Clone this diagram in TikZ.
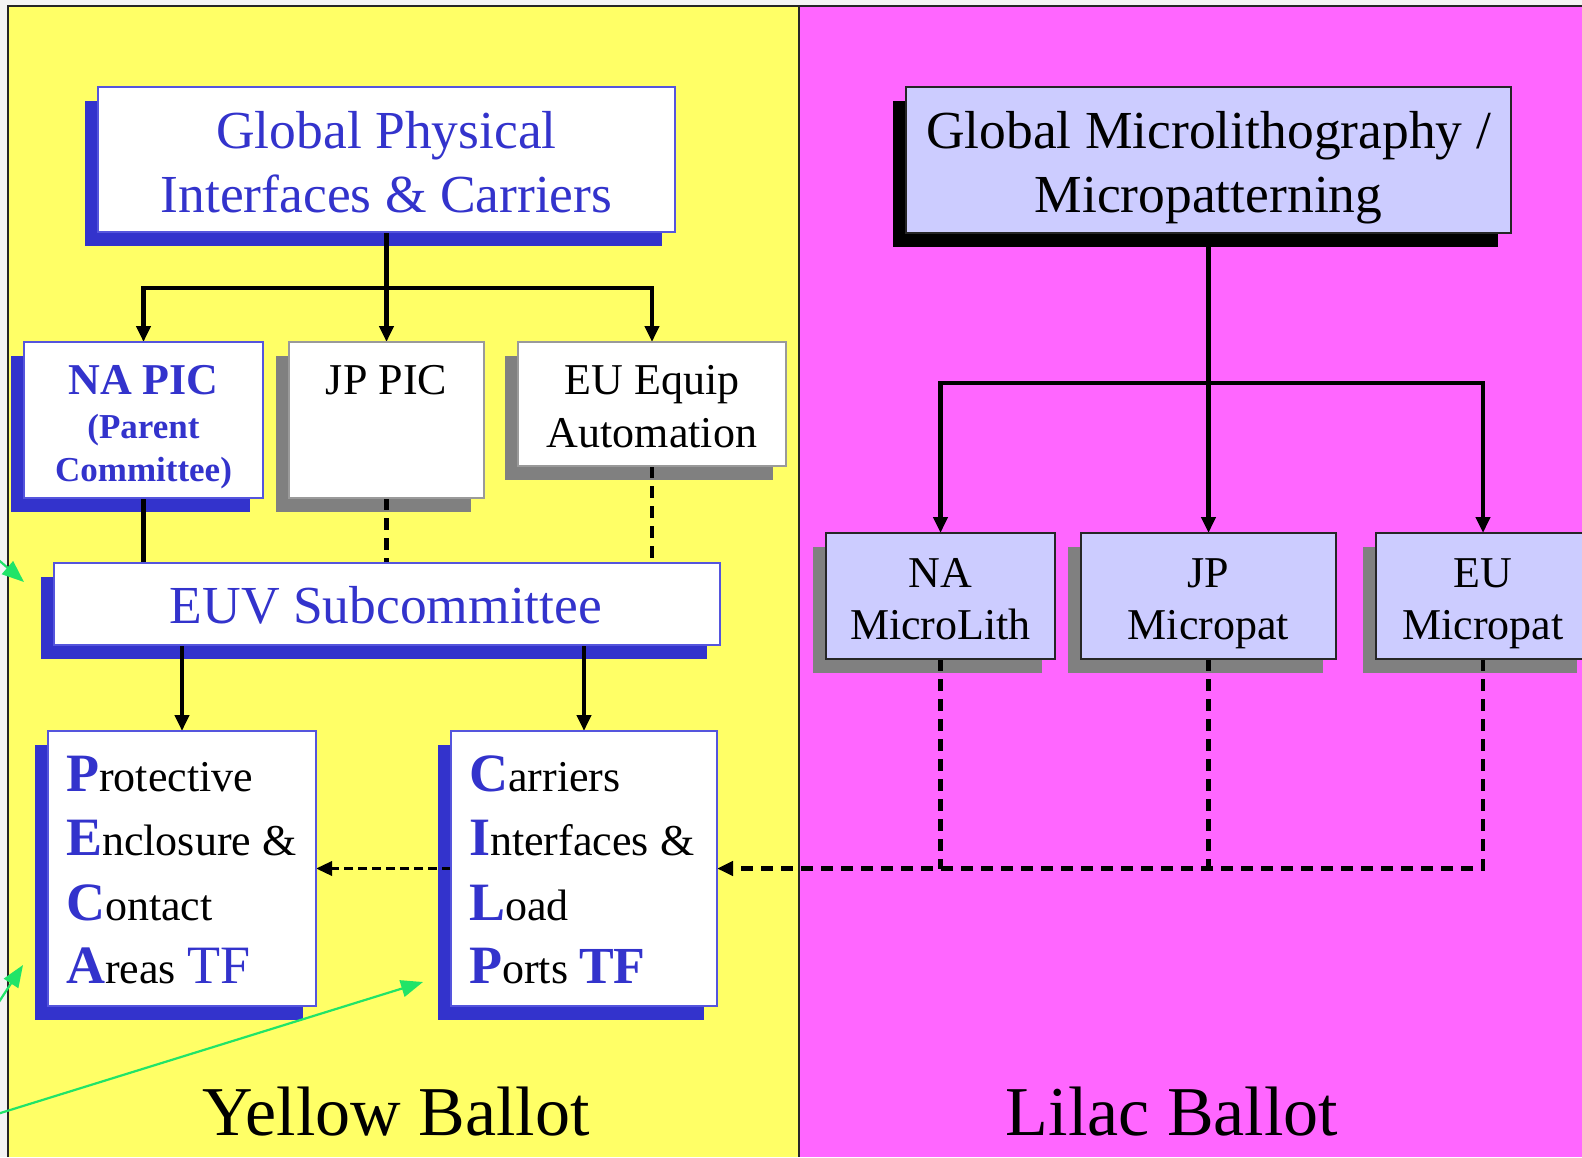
\documentclass[tikz,border=0pt]{standalone}
\usepackage{fontspec}
\setmainfont{Liberation Serif}
\usetikzlibrary{arrows.meta,calc}
\definecolor{myyellow}{HTML}{FFFF66}
\definecolor{mymag}{HTML}{FF66FF}
\definecolor{myblue}{HTML}{3333CC}
\definecolor{boxblue}{HTML}{5555DD}
\definecolor{lilac}{HTML}{CCCCFF}
\definecolor{shgrey}{HTML}{808080}
\definecolor{boxgrey}{HTML}{9A9A9A}
\definecolor{mygreen}{HTML}{20E468}
\definecolor{margin}{HTML}{F4F4F4}
\pgfdeclarelayer{panel}\pgfdeclarelayer{shadow}\pgfdeclarelayer{lines}
\pgfsetlayers{panel,shadow,lines,main}
\newcommand\fs[1]{\fontsize{#1}{#1}\selectfont}
\newcommand\Ini[1]{{\fontsize{54}{54}\selectfont\bfseries\color{myblue}#1}}
\newcommand\boxshadow[2]{\fill[#2] ($(#1.south west)+(-13,14)$) rectangle ($(#1.north east)+(-13,14)$);}
\begin{document}
\begin{tikzpicture}[x=1pt,y=-1pt,
  box/.style={rectangle, inner sep=0pt, outer sep=0pt, line width=1.3pt},
  wbox/.style={box, draw=boxblue, fill=white},
  gbox/.style={box, draw=boxgrey, fill=white},
  lbox/.style={box, draw=black!85, fill=lilac},
  txt/.style={inner sep=0pt, anchor=base},
  ltxt/.style={inner sep=0pt, anchor=base west, font=\fs{44}},
  conn/.style={line width=4.3pt, draw=black},
  tip/.style={-{Triangle[length=16pt,width=14pt]}},
  dsh/.style={conn, dash pattern=on 12pt off 8pt},
  dshthin/.style={line width=3.4pt, draw=black, dash pattern=on 9pt off 5pt},
  garrow/.style={draw=mygreen, line width=2.2pt, -{Triangle[length=22pt,width=17pt]}}]
\useasboundingbox (0,0) rectangle (1582,1157);
\clip (0,0) rectangle (1582,1157);

\begin{pgfonlayer}{panel}
  \fill[margin] (0,0) rectangle (1582,1157);
  \fill[myyellow] (8,6) rectangle (799,1157);
  \fill[mymag] (799,6) rectangle (1582,1157);
  \draw[black!85, line width=1.5pt] (8,1157) -- (8,6) -- (1582,6);
  \draw[black!85, line width=1.5pt] (799,6) -- (799,1157);
\end{pgfonlayer}

% boxes
\node[wbox, minimum width=577pt, minimum height=145pt] (gpic) at (386.5,159.5) {};
\node[lbox, minimum width=605pt, minimum height=146pt] (gmic) at (1208.5,160) {};
\node[wbox, minimum width=239pt, minimum height=156pt] (napic) at (143.5,420) {};
\node[gbox, minimum width=195pt, minimum height=156pt] (jppic) at (386.5,420) {};
\node[gbox, minimum width=268pt, minimum height=124pt] (eueq) at (652,404) {};
\node[wbox, minimum width=666pt, minimum height=82pt] (euv) at (387,604) {};
\node[lbox, minimum width=229pt, minimum height=126pt] (namic) at (940.5,596) {};
\node[lbox, minimum width=255pt, minimum height=126pt] (jpmic) at (1208.5,596) {};
\node[lbox, minimum width=214pt, minimum height=126pt] (eumic) at (1483,596) {};
\node[wbox, minimum width=268pt, minimum height=275pt] (pec) at (182,868.5) {};
\node[wbox, minimum width=266pt, minimum height=275pt] (cilp) at (584,868.5) {};

\begin{pgfonlayer}{shadow}
  \boxshadow{gpic}{myblue}
  \boxshadow{gmic}{black}
  \boxshadow{napic}{myblue}
  \boxshadow{jppic}{shgrey}
  \boxshadow{eueq}{shgrey}
  \boxshadow{euv}{myblue}
  \boxshadow{namic}{shgrey}
  \boxshadow{jpmic}{shgrey}
  \boxshadow{eumic}{shgrey}
  \boxshadow{pec}{myblue}
  \boxshadow{cilp}{myblue}
\end{pgfonlayer}

% texts
\node[txt, text=myblue, font=\fs{53.5}] (gpicA) at (386.5,148) {Global Physical};
\node[txt, text=myblue, font=\fs{53.5}] (gpicB) at (386.5,212) {Interfaces \& Carriers};
\node[txt, font=\fs{53.5}] (gmicA) at (1208.5,148) {Global Microlithography /};
\node[txt, font=\fs{53.5}] (gmicB) at (1208.5,212) {Micropatterning};
\node[txt, text=myblue, font=\fs{44}\bfseries] (napicA) at (143.5,394) {NA PIC};
\node[txt, text=myblue, font=\fs{35}\bfseries] (napicB) at (143.5,438) {(Parent};
\node[txt, text=myblue, font=\fs{35}\bfseries] (napicC) at (143.5,481) {Committee)};
\node[txt, font=\fs{44}] (jppicA) at (386.5,394) {JP PIC};
\node[txt, font=\fs{44}] (eueqA) at (652,394) {EU Equip};
\node[txt, font=\fs{44}] (eueqB) at (652,447) {Automation};
\node[txt, text=myblue, font=\fs{53.5}] (euvA) at (386,623) {EUV Subcommittee};
\node[txt, font=\fs{44}] (namicA) at (940.5,587) {NA};
\node[txt, font=\fs{44}] (namicB) at (940.5,639) {MicroLith};
\node[txt, font=\fs{44}] (jpmicA) at (1208.5,587) {JP};
\node[txt, font=\fs{44}] (jpmicB) at (1208.5,639) {Micropat};
\node[txt, font=\fs{44}] (eumicA) at (1483,587) {EU};
\node[txt, font=\fs{44}] (eumicB) at (1483,639) {Micropat};
\node[ltxt] (pecA) at (66,791) {\Ini{P}rotective};
\node[ltxt] (pecB) at (66,855) {\Ini{E}nclosure \&};
\node[ltxt] (pecC) at (66,920) {\Ini{C}ontact};
\node[ltxt] (pecD) at (66,983) {\Ini{A}reas {\fontsize{54}{54}\selectfont\color{myblue}TF}};
\node[ltxt] (cilpA) at (469,791) {\Ini{C}arriers};
\node[ltxt] (cilpB) at (469,855) {\Ini{I}nterfaces \&};
\node[ltxt] (cilpC) at (469,920) {\Ini{L}oad};
\node[ltxt] (cilpD) at (469,983) {\Ini{P}orts {\fontsize{52}{52}\selectfont\bfseries\color{myblue}TF}};
\node[txt, font=\fs{70}] (yb) at (396,1135) {Yellow Ballot};
\node[txt, font=\fs{70}] (lb) at (1172,1135) {Lilac Ballot};

% connectors
\begin{pgfonlayer}{lines}
  \draw[conn, tip] (gpic.south) -- ++(0,56) -| (napic.north);
  \draw[conn, tip] (gpic.south) -- ++(0,56) -| (eueq.north);
  \draw[conn, tip] (gpic.south) -- (jppic.north);
  \draw[conn, tip] (gmic.south) -- ++(0,150) -| (namic.north);
  \draw[conn, tip] (gmic.south) -- ++(0,150) -| (eumic.north);
  \draw[conn, tip] (gmic.south) -- (jpmic.north);
  \draw[conn] (napic.south) -- (napic.south |- euv.north);
  \draw[dsh] (jppic.south) -- (jppic.south |- euv.north);
  \draw[dsh] (eueq.south) -- (eueq.south |- euv.north);
  \draw[conn, tip] (euv.south -| pec.north) -- (pec.north);
  \draw[conn, tip] (euv.south -| cilp.north) -- (cilp.north);
  \draw[dsh] (namic.south) -- (namic.south |- cilp.east);
  \draw[dsh] (jpmic.south) -- (jpmic.south |- cilp.east);
  \draw[dsh, tip] (eumic.south) |- (cilp.east);
  \draw[dshthin, tip] (cilp.west) -- (pec.east);
\end{pgfonlayer}

% green arrows
\coordinate (g1s) at (-6,556);
\coordinate (g1e) at (24,582);
\coordinate (g2s) at (-5,1008);
\coordinate (g2e) at (23,965);
\coordinate (g3s) at (-6,1115);
\coordinate (g3e) at (423,982);
\draw[garrow] (g1s) -- (g1e);
\draw[garrow] (g2s) -- (g2e);
\draw[garrow] (g3s) -- (g3e);
\end{tikzpicture}
\end{document}
